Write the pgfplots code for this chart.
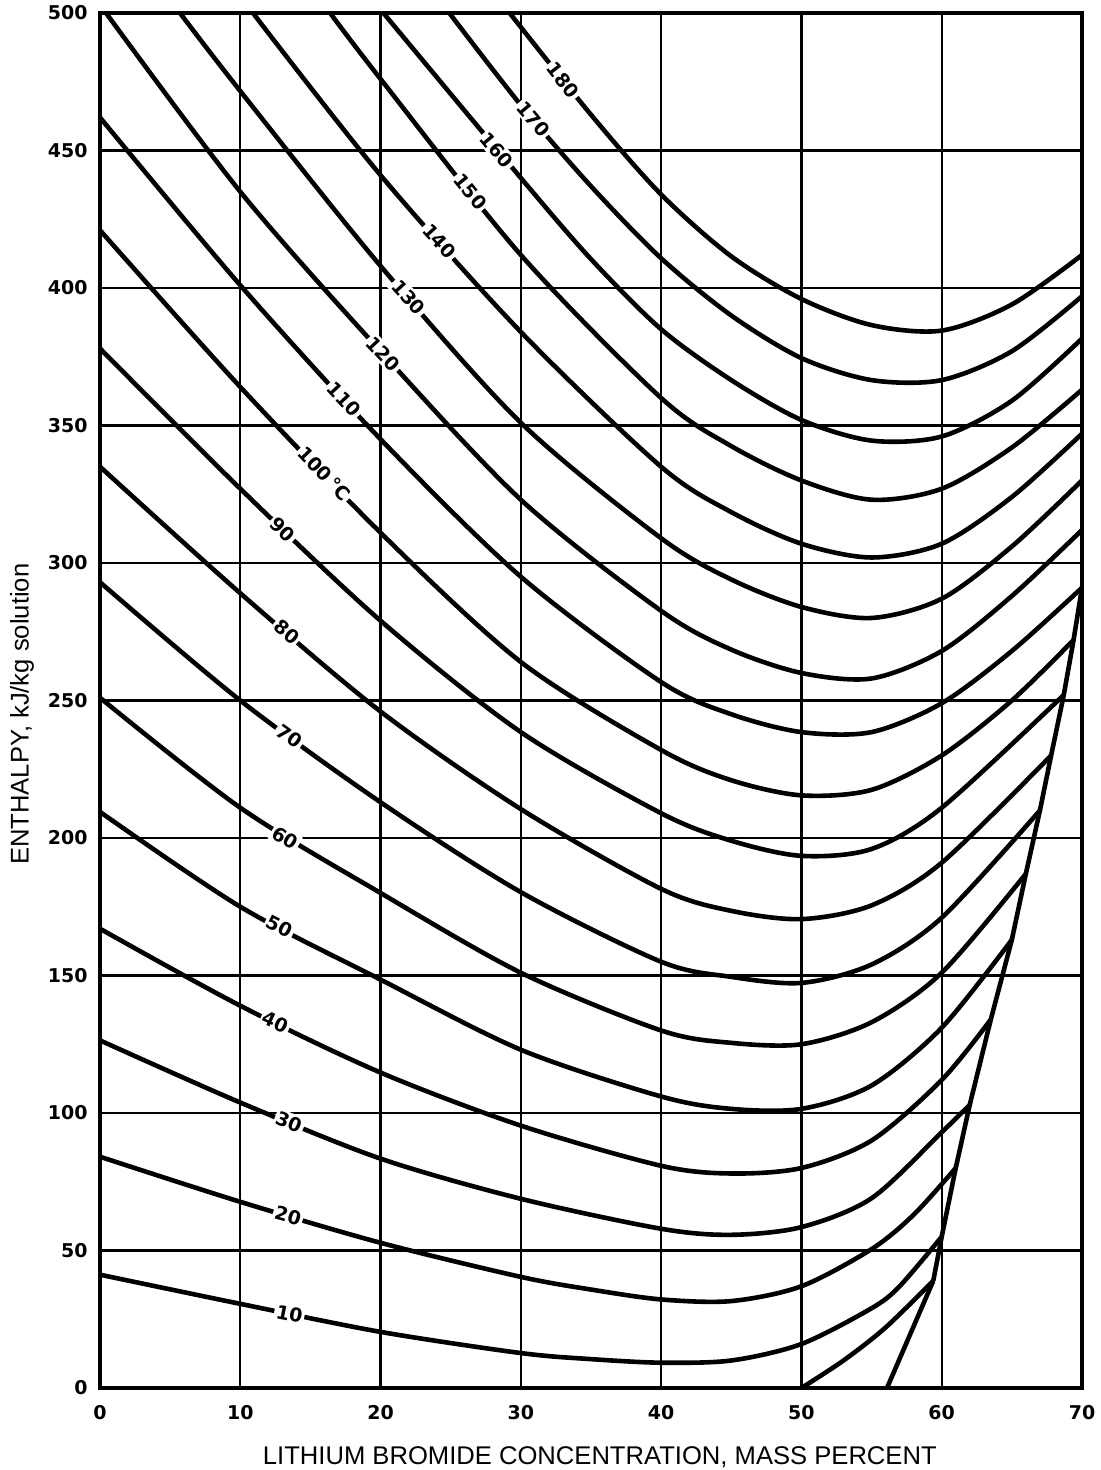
\documentclass[border=0pt]{standalone}
\usepackage{fontspec}
\setmainfont{Liberation Sans}
\newfontfamily\numfont{DejaVu Sans}
\usepackage{pgfplots}
\pgfplotsset{compat=1.18}
\usetikzlibrary{calc}

\newcommand{\tlab}{\numfont\bfseries\fontsize{9.5}{11}\selectfont}
\tikzset{lab/.style={font=\tlab, fill=white, inner sep=1pt}}
\pgfplotsset{curve/.style={black, line width=2.3pt, smooth}}

\begin{document}
\begin{tikzpicture}
\begin{axis}[name=ax, scale only axis, width=491pt, height=687.5pt,
  xmin=0, xmax=70, ymin=0, ymax=500,
  xtick={0,10,...,70}, ytick={0,50,...,500},
  grid=major, major grid style={black, line width=1.1pt},
  axis line style={black, line width=1.6pt},
  major tick length=0pt,
  ticklabel style={font=\tlab},
  /pgf/number format/assume math mode=true,
  xticklabel style={yshift=-5pt},
  yticklabel style={xshift=-2.7pt},
  xlabel={LITHIUM BROMIDE CONCENTRATION, MASS PERCENT},
  ylabel={ENTHALPY, kJ/kg solution},
  label style={font=\fontsize{12.8}{15}\selectfont},
  xlabel style={at={(axis description cs:0.509,-0.056)}, anchor=base},
  ylabel style={at={(axis description cs:-0.0794,0.49)}, anchor=center},
]
% isotherms, deg C
\addplot[curve] coordinates {(50,0) (53,10) (56,22) (59.4,39)};
\addplot[curve] coordinates {(0,41.2) (10,30.6) (20,20.4) (30,12.7) (35,10.5) (40,9.2) (45,10) (50,16) (55,29) (57,37) (60,55)};
\addplot[curve] coordinates {(0,84.1) (10,67.7) (20,52.8) (30,40.4) (35,35.8) (40,32.2) (45,31.6) (50,37) (55,50.5) (58,63) (61,80)};
\addplot[curve] coordinates {(0,126.4) (10,103.8) (20,83.4) (30,68.8) (40,57.9) (45,55.7) (50,58.5) (55,69) (60,93) (62,103)};
\addplot[curve] coordinates {(0,167) (10,139) (20,114.7) (30,95.4) (40,80.8) (45,78) (50,80) (55,90) (60,112) (63.5,134)};
\addplot[curve] coordinates {(0,209.5) (10,175) (20,148.5) (30,123) (40,106) (45,101.5) (50,101.5) (55,110) (60,131) (65,163)};
\addplot[curve] coordinates {(0,251) (10,211) (20,180) (30,151) (40,130) (45,125.5) (50,125) (55,133) (60,151) (66,187)};
\addplot[curve] coordinates {(0,293) (10,250) (20,213) (30,180.3) (40,155) (45,149.5) (50,147.3) (55,154) (60,171) (67,210)};
\addplot[curve] coordinates {(0,335) (10,289) (20,246) (30,210.5) (40,181.5) (45,173.5) (50,170.5) (55,175.5) (60,191) (67.8,230)};
\addplot[curve] coordinates {(0,378) (10,327) (20,279) (30,238.5) (40,209) (45,199) (50,193.5) (55,196) (60,211) (68.7,252)};
\addplot[curve] coordinates {(0,421) (10,364) (20,311) (30,264) (40,232) (45,221) (50,215.5) (55,217.5) (60,230) (65,250) (69.4,272)};
\addplot[curve] coordinates {(0,462) (10,401) (20,345) (30,295) (40,256.7) (45,245) (50,238.5) (55,238.5) (60,249) (65,268) (70,291)};
\addplot[curve] coordinates {(0,503) (10,435) (20,377) (30,323) (40,282.6) (45,268.5) (50,260) (55,258) (60,268) (65,288) (70,312)};
\addplot[curve] coordinates {(5.7,500) (10,471.6) (20,408) (30,351) (40,309) (45,294) (50,284) (55,280) (60,287) (65,306) (70,330)};
\addplot[curve] coordinates {(10.9,500) (20,441) (30,384) (40,335) (45,318.5) (50,307) (55,302) (60,307) (65,324) (70,347)};
\addplot[curve] coordinates {(16.4,500) (20,476) (30,412) (40,360) (45,342.5) (50,330) (55,323) (60,327) (65,342) (70,363)};
\addplot[curve] coordinates {(20.2,500) (30,440) (35,410.5) (40,385) (45,366.5) (50,352) (55,344.5) (60,346) (65,359) (70,381.6)};
\addplot[curve] coordinates {(24.9,500) (30,466.5) (35,437) (40,410.8) (45,390) (50,374.5) (55,366.5) (60,366.5) (65,377) (70,397)};
\addplot[curve] coordinates {(29.2,500) (35,463) (40,434) (45,411.5) (50,396) (55,386.5) (60,384.5) (65,394) (70,412)};
% crystallization line
\addplot[black, line width=2.3pt] coordinates {(56.1,0) (59.4,39)};
\addplot[black, line width=2.3pt] coordinates {(59.4,39) (60,55) (61,80) (62,103) (63.5,134) (65,163) (66,187) (67,210) (67.8,230) (68.7,252) (69.4,272) (70,291)};

% curve labels
\node[lab, rotate=-52] at (axis cs:33,475.5) {180};
\node[lab, rotate=-50] at (axis cs:30.9,461.5) {170};
\node[lab, rotate=-50] at (axis cs:28.3,450) {160};
\node[lab, rotate=-51] at (axis cs:26.4,435) {150};
\node[lab, rotate=-48] at (axis cs:24.2,417) {140};
\node[lab, rotate=-48] at (axis cs:22,396.6) {130};
\node[lab, rotate=-47] at (axis cs:20.2,376) {120};
\node[lab, rotate=-47] at (axis cs:17.4,359.5) {110};
\node[lab, rotate=-46] at (axis cs:16,332.5) {100\,°C};
\node[lab, rotate=-44] at (axis cs:13,312) {90};
\node[lab, rotate=-40] at (axis cs:13.3,275) {80};
\node[lab, rotate=-36] at (axis cs:13.5,237) {70};
\node[lab, rotate=-31] at (axis cs:13.2,200) {60};
\node[lab, rotate=-27] at (axis cs:12.8,167.7) {50};
\node[lab, rotate=-25] at (axis cs:12.5,133) {40};
\node[lab, rotate=-22] at (axis cs:13.5,96.7) {30};
\node[lab, rotate=-16] at (axis cs:13.4,62.6) {20};
\node[lab, rotate=-11] at (axis cs:13.5,27) {10};
\end{axis}
\pgfresetboundingbox
\path ($(ax.south west)+(-50pt,-41pt)$) rectangle ($(ax.north east)+(9.5pt,6.5pt)$);
\end{tikzpicture}
\end{document}
